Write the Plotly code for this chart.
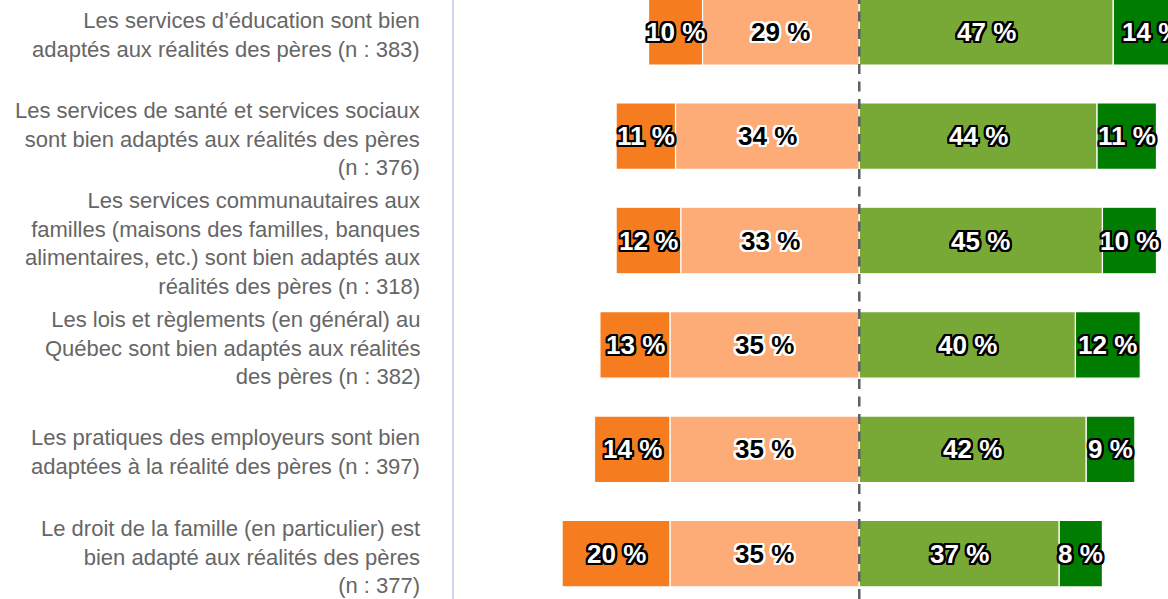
import plotly.graph_objects as go

# Statements (multi-line labels) and response shares in percent
statements = [
    "Les services d’éducation sont bien<br>adaptés aux réalités des pères (n : 383)",
    "Les services de santé et services sociaux<br>sont bien adaptés aux réalités des pères<br>(n : 376)",
    "Les services communautaires aux<br>familles (maisons des familles, banques<br>alimentaires, etc.) sont bien adaptés aux<br>réalités des pères (n : 318)",
    "Les lois et règlements (en général) au<br>Québec sont bien adaptés aux réalités<br>des pères (n : 382)",
    "Les pratiques des employeurs sont bien<br>adaptées à la réalité des pères (n : 397)",
    "Le droit de la famille (en particulier) est<br>bien adapté aux réalités des pères<br>(n : 377)",
]
tout_a_fait_en_desaccord = [10, 11, 12, 13, 14, 20]
plutot_en_desaccord = [29, 34, 33, 35, 35, 35]
plutot_en_accord = [47, 44, 45, 40, 42, 37]
tout_a_fait_en_accord = [14, 11, 10, 12, 9, 8]

series_names = ["Tout à fait en désaccord", "Plutôt en désaccord",
                "Plutôt en accord", "Tout à fait en accord"]
colors = ["#F57C1F", "#FDAB77", "#78A937", "#007D00"]

rows = list(range(len(statements)))

# Diverging layout: disagreement to the left of zero, agreement to the right
bases = [
    [-(a + b) for a, b in zip(tout_a_fait_en_desaccord, plutot_en_desaccord)],
    [-b for b in plutot_en_desaccord],
    [0 for _ in plutot_en_accord],
    list(plutot_en_accord),
]
values = [tout_a_fait_en_desaccord, plutot_en_desaccord,
          plutot_en_accord, tout_a_fait_en_accord]

fig = go.Figure()
for name, vals, base, color in zip(series_names, values, bases, colors):
    fig.add_trace(go.Bar(
        name=name, y=rows, x=vals, base=base, orientation="h",
        width=0.637, marker=dict(color=color, line=dict(color="#FFFFFF", width=1.2)),
        showlegend=False, hoverinfo="skip",
    ))

def outline(c, w=2):
    offs = [(-w, -w), (w, -w), (-w, w), (w, w), (0, w), (0, -w), (w, 0), (-w, 0),
            (-w / 2, -w), (w / 2, -w), (-w / 2, w), (w / 2, w),
            (-w, -w / 2), (w, -w / 2), (-w, w / 2), (w, w / 2)]
    return ", ".join(f"{dx}px {dy}px 0 {c}" for dx, dy in offs)

annotations = []
# Value labels centred in each segment
for si, (vals, base) in enumerate(zip(values, bases)):
    dark_text = si == 1
    for r, (v, b) in enumerate(zip(vals, base)):
        annotations.append(dict(
            x=b + v / 2, y=r, xref="x", yref="y", text=f"{v} %",
            showarrow=False, xanchor="center", yanchor="middle",
            font=dict(family="Liberation Sans, Arial, sans-serif", size=26,
                      weight="bold",
                      color="#000000" if dark_text else "#FFFFFF",
                      shadow=outline("#FFFFFF" if dark_text else "#000000")),
        ))

# Category labels to the left of the axis
for r, label in enumerate(statements):
    annotations.append(dict(
        x=0, y=r, xref="paper", yref="y", text=label, showarrow=False,
        xanchor="right", yanchor="middle", align="right", xshift=-32, yshift=-3,
        font=dict(family="Liberation Sans, Arial, sans-serif", size=22, color="#666666"),
    ))

fig.update_layout(
    width=1168, height=599,
    margin=dict(l=454, r=0, t=0, b=0),
    paper_bgcolor="#FFFFFF", plot_bgcolor="#FFFFFF",
    barmode="overlay",
    xaxis=dict(range=[-75, 57.13], showgrid=False, zeroline=False,
               showticklabels=False, ticks=""),
    yaxis=dict(range=[5.434, -0.304], showgrid=False, zeroline=False,
               showticklabels=False, ticks="", showline=True,
               linecolor="#CCD6EB", linewidth=2),
    annotations=annotations,
    shapes=[dict(type="line", xref="x", yref="paper", x0=0, x1=0, y0=0, y1=1,
                 line=dict(color="#5A5F66", width=2.5, dash="10px,7.5px"),
                 layer="above")],
)

fig.write_html("out.html")
